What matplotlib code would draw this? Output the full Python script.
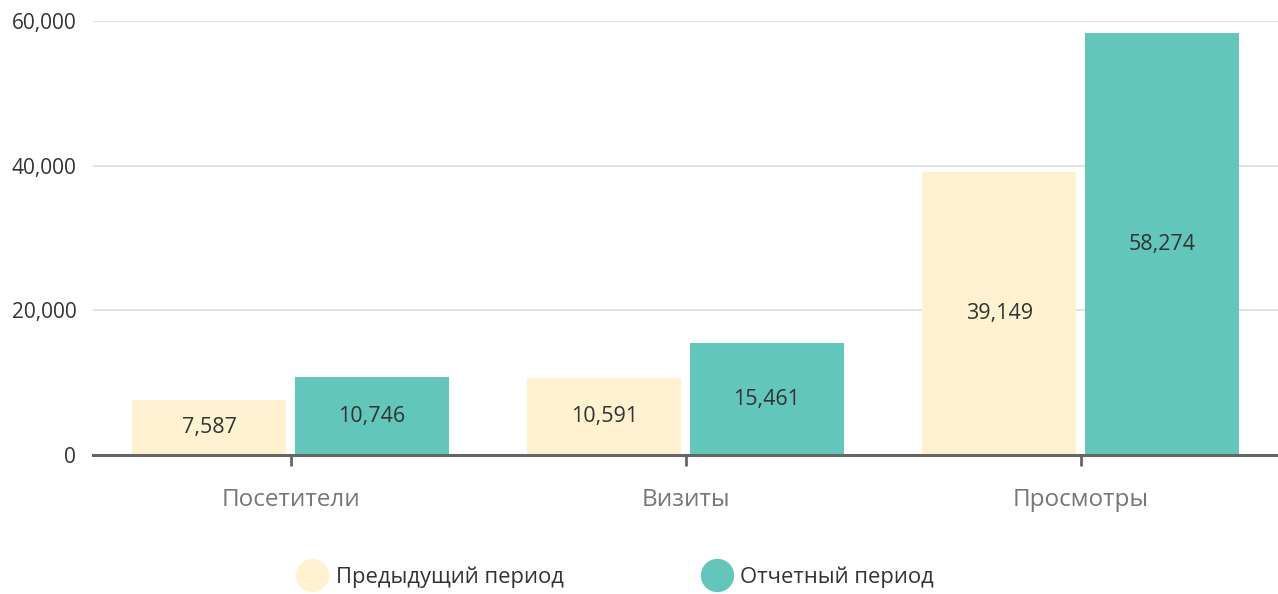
import matplotlib.pyplot as plt
import numpy as np
from matplotlib.ticker import FuncFormatter
from matplotlib.lines import Line2D

# данные
categories = ['Посетители', 'Визиты', 'Просмотры']
prev_values = [7587, 10591, 39149]
curr_values = [10746, 15461, 58274]
series_names = ['Предыдущий период', 'Отчетный период']
colors = ['#FFF2D0', '#62C6BA']

plt.rcParams['font.family'] = ['Open Sans', 'DejaVu Sans']

fig = plt.figure(figsize=(12.78, 5.94), dpi=100)
ax = fig.add_axes([93 / 1278, 1 - 455 / 594, 1 - 93 / 1278, (455 - 21) / 594])

x = np.arange(len(categories))
w = 0.39
off = 0.206
b1 = ax.bar(x - off, prev_values, w, color=colors[0], zorder=2)
b2 = ax.bar(x + off, curr_values, w, color=colors[1], zorder=2)

for bars, vals in ((b1, prev_values), (b2, curr_values)):
    for rect, v in zip(bars, vals):
        ax.text(rect.get_x() + rect.get_width() / 2, v / 2, f'{v:,}',
                ha='center', va='center', fontsize=15.5, color='#333333', zorder=3)

ax.set_xlim(-0.5, 2.5)
ax.set_ylim(0, 60000)
ax.set_yticks([0, 20000, 40000, 60000])
ax.yaxis.set_major_formatter(FuncFormatter(lambda v, p: f'{int(v):,}'))
ax.grid(axis='y', color='#dddddd', linewidth=1.2, zorder=0)
ax.set_axisbelow(True)

for s in ['left', 'right', 'top']:
    ax.spines[s].set_visible(False)
ax.spines['bottom'].set_color('#666666')
ax.spines['bottom'].set_linewidth(2.2)
ax.spines['bottom'].set_zorder(4)

ax.set_xticks(x)
ax.set_xticklabels(categories, fontsize=17.5, color='#777777')
ax.tick_params(axis='x', length=8, width=2, color='#666666', pad=16)
ax.tick_params(axis='y', length=0, pad=12, labelsize=15, labelcolor='#333333')

handles = [Line2D([], [], marker='o', linestyle='', markersize=23,
                  markerfacecolor=c, markeredgecolor=c) for c in colors]
fig.legend(handles, series_names, loc='center', bbox_to_anchor=(0.479, 1 - 577 / 594),
           ncol=2, frameon=False, fontsize=15.8, columnspacing=6.0, handletextpad=0.05,
           labelcolor='#333333')

fig.savefig('out.png', dpi=100)
